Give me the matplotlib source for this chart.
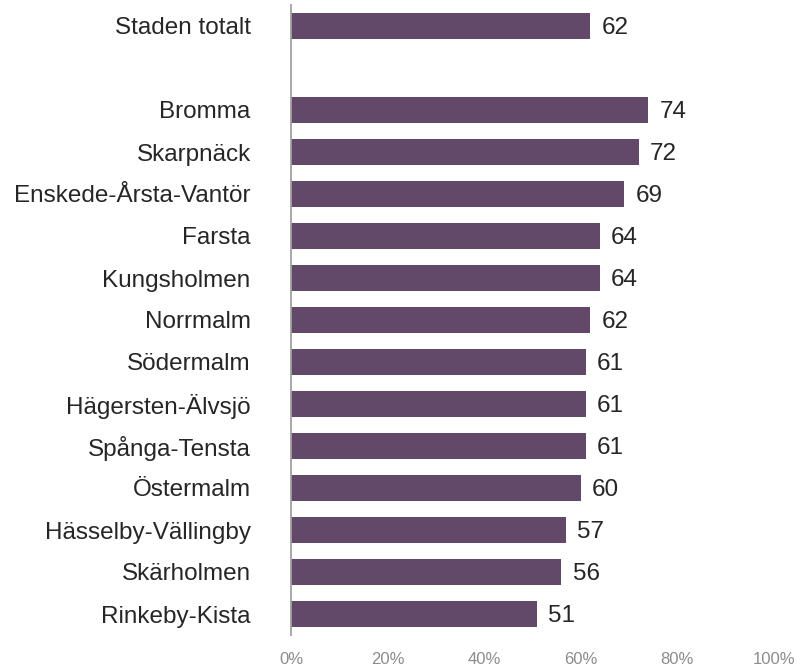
import numpy as np
import matplotlib.pyplot as plt
from matplotlib.ticker import FuncFormatter

# andel i procent per stadsdel, med staden totalt överst
omraden = ["Staden totalt", "", "Bromma", "Skarpnäck", "Enskede-Årsta-Vantör",
           "Farsta", "Kungsholmen", "Norrmalm", "Södermalm", "Hägersten-Älvsjö",
           "Spånga-Tensta", "Östermalm", "Hässelby-Vällingby", "Skärholmen",
           "Rinkeby-Kista"]
andel = [62, None, 74, 72, 69, 64, 64, 62, 61, 61, 61, 60, 57, 56, 51]
xticks = [0, 20, 40, 60, 80, 100]

plt.rcParams['font.family'] = ['Liberation Sans', 'DejaVu Sans']

fig = plt.figure(figsize=(7.97, 6.67), dpi=100)
ax = fig.add_axes([291 / 797, 1 - 635 / 667, (774 - 291) / 797, 630 / 667])

farg = '#62496A'
y = np.arange(len(omraden))
for i, v in enumerate(andel):
    if v is None:
        continue
    ax.barh(y[i], v, height=0.6, color=farg, edgecolor='none')
    ax.annotate(str(v), (v, y[i]), xytext=(8, 0), textcoords='offset points',
                va='center_baseline', ha='left', fontsize=17.5, color='#262626')

ax.set_xlim(0, 100)
ax.set_ylim(len(omraden) - 0.5, -0.5)
ax.set_yticks(y)
ax.set_yticklabels(omraden, fontsize=17.5, color='#262626')
ax.set_xticks(xticks)
ax.xaxis.set_major_formatter(FuncFormatter(lambda v, p: f"{v:.0f}%"))
ax.tick_params(axis='y', length=0, pad=29)
ax.tick_params(axis='x', length=0, pad=12, labelsize=12, labelcolor='#8c8c8c')

for s in ['top', 'right', 'bottom']:
    ax.spines[s].set_visible(False)
ax.spines['left'].set_color('#a0a0a0')
ax.spines['left'].set_linewidth(1.3)

fig.savefig('out.png', dpi=100)
